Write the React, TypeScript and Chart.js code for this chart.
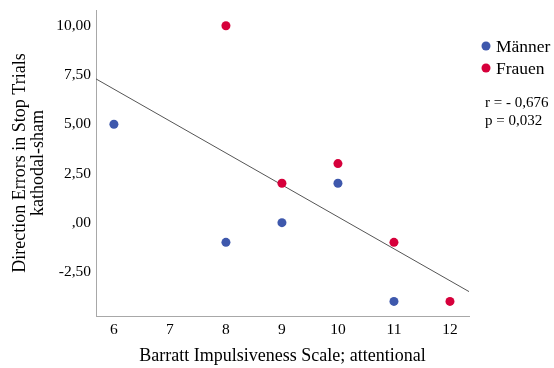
import { useEffect, useRef } from "react";
import { Chart, registerables } from "chart.js";

Chart.register(...registerables);

// Data
const maennerX = [6, 8, 9, 10, 11];
const maennerY = [5, -1, 0, 2, -4];
const frauenX = [8, 9, 10, 11, 12];
const frauenY = [10, 2, 3, -1, -4];
const fitX = [5.68, 12.34];
const fitY = [7.3, -3.5];

const xTicks = [6, 7, 8, 9, 10, 11, 12];
const yTicks = [-2.5, 0, 2.5, 5, 7.5, 10];
const yTickLabels = ["-2,50", ",00", "2,50", "5,00", "7,50", "10,00"];
const seriesLabels = ["Männer", "Frauen"];
const seriesColors = ["#3e58ac", "#d6003b"];
const statsLines = ["r = - 0,676", "p = 0,032"];
const xTitle = "Barratt Impulsiveness Scale; attentional";
const yTitle = ["Direction Errors in Stop Trials", "kathodal-sham"];

const FONT = "'Liberation Serif', 'Times New Roman', serif";

const legendPlugin = {
  id: "customLegend",
  afterDraw(chart: any) {
    const ctx = chart.ctx;
    const area = chart.chartArea;
    const x0 = area.right + 17;
    ctx.save();
    ctx.textBaseline = "middle";
    ctx.textAlign = "left";
    ctx.font = `17.5px ${FONT}`;
    seriesLabels.forEach((label, i) => {
      const y = 46 + i * 22;
      ctx.fillStyle = seriesColors[i];
      ctx.beginPath();
      ctx.arc(x0, y, 4.5, 0, Math.PI * 2);
      ctx.fill();
      ctx.fillStyle = "#000";
      ctx.fillText(label, x0 + 10, y + 1);
    });
    ctx.font = `15px ${FONT}`;
    statsLines.forEach((t, i) => {
      ctx.fillStyle = "#000";
      ctx.fillText(t, x0 - 1, 103 + i * 18);
    });
    ctx.restore();
  },
};

export default function App() {
  const ref = useRef<HTMLCanvasElement>(null);

  useEffect(() => {
    if (!ref.current) return;
    const chart = new Chart(ref.current, {
      type: "scatter",
      data: {
        datasets: [
          {
            label: seriesLabels[0],
            data: maennerX.map((x, i) => ({ x, y: maennerY[i] })),
            backgroundColor: seriesColors[0],
            borderColor: seriesColors[0],
            pointRadius: 4.5,
            borderWidth: 0,
          },
          {
            label: seriesLabels[1],
            data: frauenX.map((x, i) => ({ x, y: frauenY[i] })),
            backgroundColor: seriesColors[1],
            borderColor: seriesColors[1],
            pointRadius: 4.5,
            borderWidth: 0,
          },
          {
            label: "fit",
            data: fitX.map((x, i) => ({ x, y: fitY[i] })),
            showLine: true,
            pointRadius: 0,
            borderColor: "#555555",
            borderWidth: 1,
            backgroundColor: "#555555",
          } as any,
        ],
      },
      options: {
        animation: false,
        responsive: false,
        layout: { padding: { top: 10, right: 85, left: 0, bottom: 0 } },
        plugins: {
          legend: { display: false },
          tooltip: { enabled: false },
        },
        scales: {
          x: {
            type: "linear",
            min: 5.68,
            max: 12.34,
            afterFit: (s: any) => {
              s.height = 52;
              s.paddingLeft = 0;
              s.paddingRight = 0;
            },
            afterBuildTicks: (s: any) => {
              s.ticks = xTicks.map((v) => ({ value: v }));
            },
            grid: { display: false, drawTicks: false },
            border: { color: "#a8a8a8", width: 1 },
            ticks: {
              color: "#000",
              font: { family: FONT, size: 15.5 },
              padding: 5,
              callback: (v: any) => String(v),
            },
            title: {
              display: true,
              text: xTitle,
              color: "#000",
              font: { family: FONT, size: 18 },
              padding: { top: 0, bottom: 1 },
            },
          },
          y: {
            type: "linear",
            min: -4.74,
            max: 10.8,
            afterFit: (s: any) => {
              s.width = 96;
              s.paddingTop = 0;
              s.paddingBottom = 0;
            },
            afterBuildTicks: (s: any) => {
              s.ticks = yTicks.map((v) => ({ value: v }));
            },
            grid: { display: false, drawTicks: false },
            border: { color: "#a8a8a8", width: 1 },
            ticks: {
              color: "#000",
              font: { family: FONT, size: 15.5 },
              padding: 5,
              callback: (v: any) => {
                const idx = yTicks.indexOf(Number(v));
                return idx >= 0 ? yTickLabels[idx] : "";
              },
            },
            title: {
              display: true,
              text: yTitle,
              color: "#000",
              font: { family: FONT, size: 18, lineHeight: 1.0 },
              padding: { top: 11, bottom: 0 },
            },
          },
        },
      },
      plugins: [legendPlugin],
    });
    return () => chart.destroy();
  }, []);

  return (
    <div style={{ position: "fixed", left: 0, top: 0, width: 554, height: 368, background: "#fff" }}>
      <canvas ref={ref} width={554} height={368} style={{ width: 554, height: 368 }} />
    </div>
  );
}
